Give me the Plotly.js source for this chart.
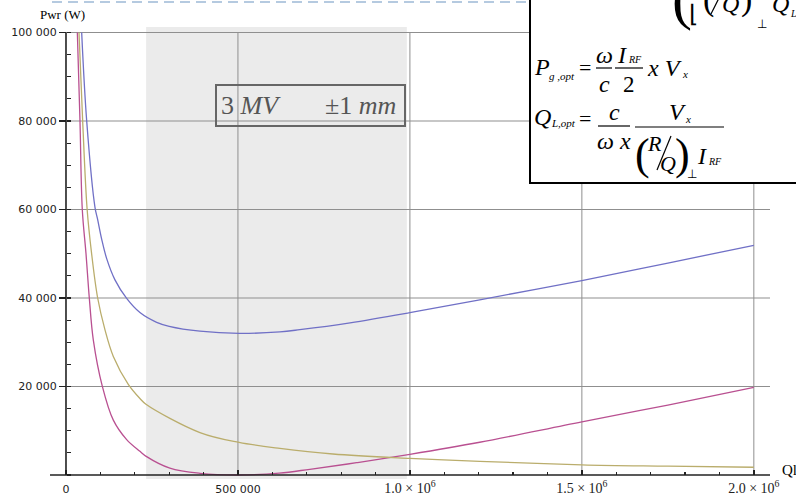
<!DOCTYPE html>
<html>
<head>
<meta charset="utf-8">
<script src="https://cdn.plot.ly/plotly-3.0.1.min.js"></script>
<style>html,body{margin:0;padding:0;background:#fff;}#chart{width:796px;height:500px;}</style>
</head>
<body>
<div id="chart"></div>
<script>
// ---- data ----
const qlBlue = [45600, 60200, 84300, 92100, 103700, 118300, 142400, 176400, 215000, 263600, 300000, 389500, 503000, 622000, 680000, 826000, 1000000, 1203000, 1500000, 1750000, 2000000];
const pBlue  = [100000, 80000, 60500, 57700, 53300, 48900, 44100, 39900, 36700, 34500, 33600, 32500, 32000, 32350, 32850, 34400, 36700, 39600, 43950, 47900, 51900];

const qlMagenta = [33000, 40700, 47400, 58100, 67800, 79500, 105500, 137600, 176400, 215000, 234500, 302000, 389500, 500000, 620000, 709000, 845000, 1000000, 1203000, 1500000, 1750000, 2000000];
const pMagenta  = [100000, 80000, 60000, 50100, 40000, 30500, 20100, 12400, 8000, 5350, 4150, 1550, 380, 0, 420, 1290, 2780, 4670, 7400, 12030, 15800, 19800];

const qlOlive = [37800, 48500, 61500, 74400, 92100, 113400, 137600, 181100, 215000, 232500, 389500, 503000, 622000, 776000, 1000000, 1203000, 1500000, 1750000, 2000000];
const pOlive  = [100000, 80000, 60000, 50100, 40000, 32800, 26800, 20500, 17300, 16000, 9600, 7380, 6020, 4750, 3760, 3100, 2300, 2000, 1750];

const shadedRange = [233000, 991000];

const xTickVals = [0, 500000, 1000000, 1500000, 2000000];
const xTickText = ['0', '500 000',
  '<span style="font-family:Liberation Serif;font-size:14px">1.0 × 10<sup>6</sup></span>',
  '<span style="font-family:Liberation Serif;font-size:14px">1.5 × 10<sup>6</sup></span>',
  '<span style="font-family:Liberation Serif;font-size:14px">2.0 × 10<sup>6</sup></span>'];
const yTickVals = [20000, 40000, 60000, 80000, 100000];
const yTickText = ['20 000', '40 000', '60 000', '80 000', '100 000'];

// ---- helpers (pixel -> paper) ----
const L = 50, R = 770, T = 27, B = 479;
function X(px){ return (px - L) / (R - L); }
function Y(py){ return (B - py) / (B - T); }
const SERIF = 'Liberation Serif';
function txt(t, px, py, size, xa, color){
  return {xref:'paper', yref:'paper', x:X(px), y:Y(py), text:t, showarrow:false,
    font:{family:SERIF, size:size, color:color||'#000'}, xanchor:xa||'center', yanchor:'middle'};
}
function pline(x0,y0,x1,y1,w,c){
  return {type:'line', xref:'paper', yref:'paper', x0:X(x0), y0:Y(y0), x1:X(x1), y1:Y(y1),
    line:{color:c||'#000', width:w||1.2}, layer:'above'};
}

const traces = [
  {x:qlBlue, y:pBlue, mode:'lines', line:{color:'rgb(112,112,198)', width:1.3, shape:'spline', smoothing:1}, hoverinfo:'skip'},
  {x:qlMagenta, y:pMagenta, mode:'lines', line:{color:'rgb(185,80,145)', width:1.3, shape:'spline', smoothing:1}, hoverinfo:'skip'},
  {x:qlOlive, y:pOlive, mode:'lines', line:{color:'rgb(186,173,108)', width:1.3, shape:'spline', smoothing:1}, hoverinfo:'skip'}
];

const xMax = 2047000, yTop = 100000;
const shapes = [];
shapes.push({type:'rect', xref:'x', yref:'paper', x0:shadedRange[0], x1:shadedRange[1], y0:0, y1:1,
  fillcolor:'#ebebeb', line:{width:0}, layer:'below'});
xTickVals.filter(v => v > 0).forEach(v => shapes.push({type:'line', xref:'x', yref:'y', x0:v, x1:v, y0:0, y1:yTop,
  line:{color:'#8f8f8f', width:1}, layer:'below'}));
yTickVals.forEach(v => shapes.push({type:'line', xref:'x', yref:'y', x0:0, x1:xMax, y0:v, y1:v,
  line:{color:'#8f8f8f', width:1}, layer:'below'}));
// axes
shapes.push({type:'line', xref:'paper', yref:'y', x0:0, x1:1, y0:0, y1:0, line:{color:'#222', width:1.6}, layer:'above'});
shapes.push({type:'line', xref:'x', yref:'y', x0:0, x1:0, y0:0, y1:yTop, line:{color:'#222', width:1.6}, layer:'above'});
// dashed line at top
shapes.push({type:'line', xref:'paper', yref:'paper', x0:X(52), x1:X(530), y0:Y(2), y1:Y(2),
  line:{color:'#9db9d6', width:1.5, dash:'10px,6px'}, layer:'above'});
// label box
shapes.push({type:'rect', xref:'paper', yref:'paper', x0:X(216), x1:X(405), y0:Y(126), y1:Y(85),
  line:{color:'#666', width:2}, layer:'above'});
// equation box
shapes.push({type:'rect', xref:'paper', yref:'paper', x0:X(530), x1:X(810), y0:Y(183), y1:Y(-10),
  fillcolor:'#fff', line:{color:'#000', width:2}, layer:'above'});
// fraction bars
shapes.push(pline(596, 68, 612, 68));
shapes.push(pline(615, 68, 643, 68));
shapes.push(pline(598, 126, 630, 126));
shapes.push(pline(635, 127, 724, 127));
shapes.push(pline(657, 170, 671, 136));
shapes.push(pline(722, -8, 711, 14));

const annotations = [
  txt('Pwr (W)', 62, 15, 13),
  txt('Ql', 790, 470, 15),
  txt('3 <i>MV</i>', 251, 105, 26, 'center', '#555'),
  txt('±1 <i>mm</i>', 360, 105, 26, 'center', '#555'),
  // partial first formula (cut by top edge)
  txt('(', 682, -2, 60),
  txt('⌊', 693, 14, 24),
  txt('−', 701, -2, 22),
  txt('(', 708, -1, 34),
  txt('<i>Q</i>', 730, 4, 24),
  txt(')', 746, -1, 34),
  txt('⊥', 762, 24, 12),
  txt('<i>Q</i>', 780, 4, 24),
  txt('<i>L</i>', 793, 14, 10),
  // P_g,opt
  txt('<i>P</i>', 532, 67, 24, 'left'),
  txt('<i>g ,opt</i>', 547, 76, 11, 'left'),
  txt('=', 585, 67, 22),
  txt('<i>ω</i>', 604, 55, 24),
  txt('<i>c</i>', 604, 84, 24),
  txt('<i>I</i>', 622, 55, 24),
  txt('<i>RF</i>', 635, 60, 10),
  txt('2', 629, 84, 23),
  txt('<i>x V</i>', 645, 68, 24, 'left'),
  txt('<i>x</i>', 680, 74, 11, 'left'),
  // Q_L,opt
  txt('<i>Q</i>', 532, 117, 24, 'left'),
  txt('<i>L,opt</i>', 549, 123, 11, 'left'),
  txt('=', 585, 118, 22),
  txt('<i>c</i>', 614, 112, 24),
  txt('<i>ω x</i>', 614, 141, 24),
  txt('<i>V</i>', 677, 112, 24),
  txt('<i>x</i>', 688, 119, 11),
  txt('(', 642, 154, 44),
  txt('<i>R</i>', 654, 143, 22),
  txt('<i>Q</i>', 668, 163, 22),
  txt(')', 682, 154, 44),
  txt('⊥', 692, 174, 12),
  txt('<i>I</i>', 702, 156, 24),
  txt('<i>RF</i>', 715, 161, 10)
];

const layout = {
  width:796, height:500,
  margin:{l:L, r:796-R, t:T, b:500-B, pad:0},
  paper_bgcolor:'#fff', plot_bgcolor:'#fff',
  showlegend:false,
  xaxis:{range:[-46500, xMax], showgrid:false, zeroline:false, showline:false,
    anchor:'free', position:Y(475),
    tickmode:'array', tickvals:xTickVals, ticktext:xTickText,
    ticks:'inside', ticklen:5, tickwidth:1.4, tickcolor:'#222',
    minor:{dtick:100000, tick0:0, ticks:'inside', ticklen:3, tickwidth:1.2, tickcolor:'#222', showgrid:false},
    tickfont:{family:'DejaVu Sans', size:11, color:'#222'}, ticklabelstandoff:6},
  yaxis:{range:[-904, 101243], showgrid:false, zeroline:false, showline:false,
    anchor:'free', position:X(66),
    tickmode:'array', tickvals:yTickVals, ticktext:yTickText,
    ticks:'outside', ticklen:7, tickwidth:1.4, tickcolor:'#222',
    minor:{dtick:5000, tick0:0, ticks:'inside', ticklen:4, tickwidth:1.2, tickcolor:'#222', showgrid:false},
    tickfont:{family:'DejaVu Sans', size:11, color:'#222'}, ticklabelstandoff:0},
  shapes:shapes,
  annotations:annotations
};

Plotly.newPlot('chart', traces, layout, {staticPlot:true, displayModeBar:false});
</script>
</body>
</html>
